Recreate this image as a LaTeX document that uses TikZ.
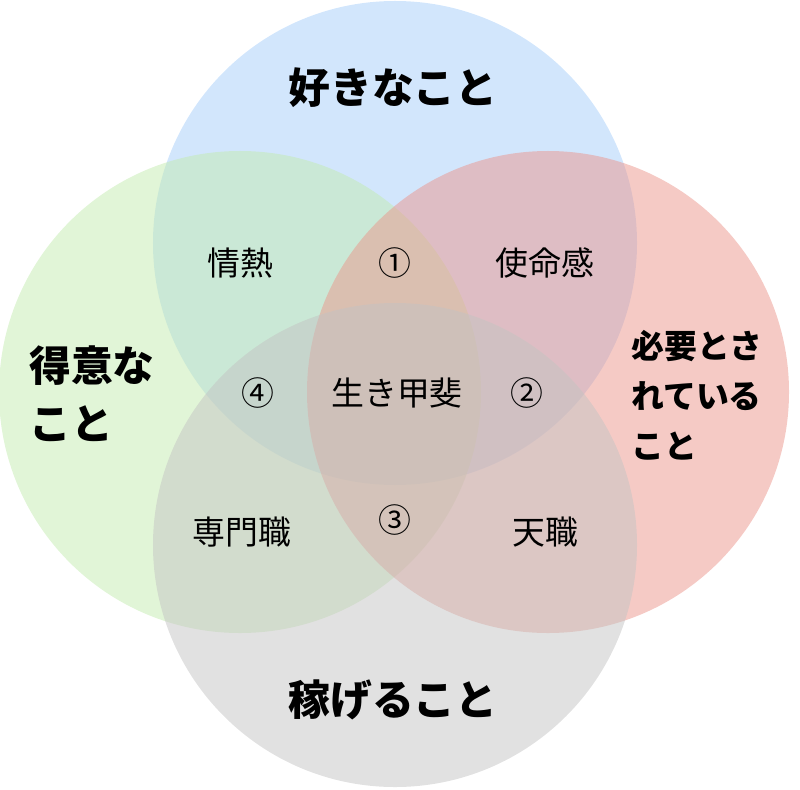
\documentclass[tikz,border=0pt]{standalone}
\usepackage{fontspec}
\setmainfont{Noto Sans CJK JP}
\definecolor{likeblue}{RGB}{165,205,250}
\definecolor{goodgreen}{RGB}{195,235,175}
\definecolor{needred}{RGB}{235,150,140}
\definecolor{earngray}{RGB}{195,195,195}
\begin{document}
\begin{tikzpicture}[x=1bp,y=-1bp]
\tikzset{
  ring/.style={fill opacity=0.5,draw=none},
  title/.style={font=\fontsize{42}{48}\selectfont\bfseries,align=center},
  side/.style={font=\fontsize{33}{50}\selectfont\bfseries,align=left},
  inner/.style={font=\fontsize{33}{38}\selectfont}
}
\useasboundingbox (0,0) rectangle (800,790);
% the four circles
\coordinate (like) at (395,243);
\coordinate (good) at (240,392);
\coordinate (need) at (548,392);
\coordinate (earn) at (395,545);
\fill[ring,likeblue] (like) circle (242bp);
\fill[ring,goodgreen] (good) circle (241bp);
\fill[ring,needred] (need) circle (241bp);
\fill[ring,earngray] (earn) circle (242bp);
% titles
\node[title] (liket) at (393,88) {好きなこと};
\node[title] (earnt) at (393,700) {稼げること};
\node[side,font=\fontsize{42}{58}\selectfont\bfseries] (goodt) at (92,394) {得意な\\こと};
\node[side] (needt) at (697,395) {必要とさ\\れている\\こと};
% overlaps
\node[inner] (passion) at (240,263) {情熱};
\node[inner] (one) at (395,263) {①};
\node[inner] (mission) at (545,263) {使命感};
\node[inner] (four) at (258,393) {④};
\node[inner] (ikigai) at (397,393) {生き甲斐};
\node[inner] (two) at (527,393) {②};
\node[inner] (three) at (395,520) {③};
\node[inner] (profession) at (242,532) {専門職};
\node[inner] (vocation) at (545,532) {天職};
\end{tikzpicture}
\end{document}
